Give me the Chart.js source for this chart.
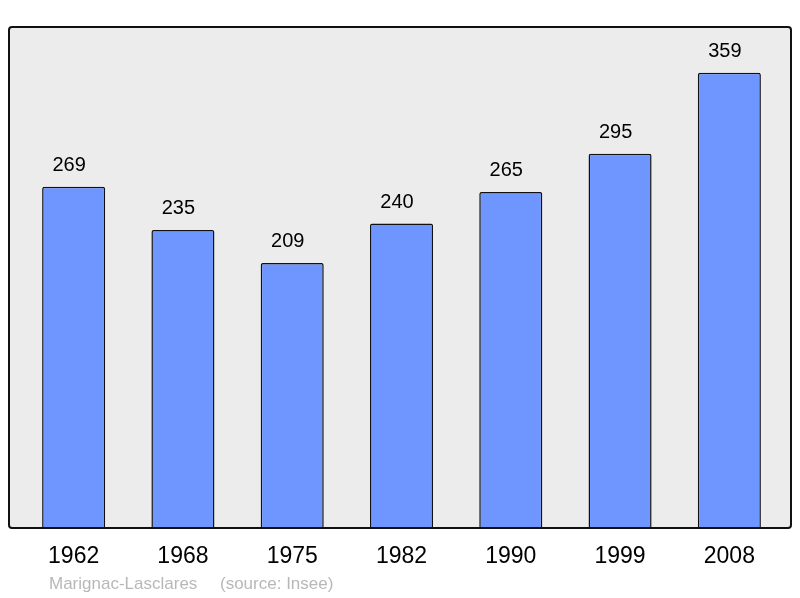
<!DOCTYPE html>
<html>
<head>
<meta charset="utf-8">
<script src="https://cdn.jsdelivr.net/npm/chart.js@4/dist/chart.umd.min.js"></script>
<style>
  html, body { margin: 0; padding: 0; background: #fff; }
  #wrap { width: 800px; height: 598px; }
</style>
</head>
<body>
<div id="wrap"><canvas id="chartPop"></canvas></div>
<script>
const years = ['1962', '1968', '1975', '1982', '1990', '1999', '2008'];
const population = [269, 235, 209, 240, 265, 295, 359];
const footerName = 'Marignac-Lasclares';
const footerSource = '(source: Insee)';

// fond gris + cadre autour de la zone du graphe
const boxPlugin = {
    id: 'box',
    beforeDatasetsDraw(chart) {
        const { ctx, chartArea: a } = chart;
        ctx.save();
        ctx.fillStyle = '#ececec';
        roundRect(ctx, a.left - 10, a.top, a.right - a.left + 17, a.bottom - a.top, 3);
        ctx.fill();
        ctx.restore();
    },
    afterDatasetsDraw(chart) {
        const { ctx, chartArea: a } = chart;
        ctx.save();
        // valeurs au-dessus des barres
        ctx.fillStyle = '#000';
        ctx.font = '20px "Liberation Sans", Arial, sans-serif';
        ctx.textAlign = 'center';
        ctx.textBaseline = 'middle';
        chart.getDatasetMeta(0).data.forEach((bar, i) => {
            ctx.fillText(population[i], bar.x - 4.5, bar.y - 21);
        });
        ctx.strokeStyle = '#111';
        ctx.lineWidth = 2;
        roundRect(ctx, a.left - 10, a.top, a.right - a.left + 17, a.bottom - a.top, 3);
        ctx.stroke();
        // pied de page
        ctx.fillStyle = '#b8b8b8';
        ctx.font = '17px "Liberation Sans", Arial, sans-serif';
        ctx.textAlign = 'left';
        ctx.fillText(footerName, 49, 584);
        ctx.fillText(footerSource, 220, 584);
        ctx.restore();
    }
};

function roundRect(ctx, x, y, w, h, r) {
    ctx.beginPath();
    ctx.moveTo(x + r, y);
    ctx.lineTo(x + w - r, y);
    ctx.quadraticCurveTo(x + w, y, x + w, y + r);
    ctx.lineTo(x + w, y + h - r);
    ctx.quadraticCurveTo(x + w, y + h, x + w - r, y + h);
    ctx.lineTo(x + r, y + h);
    ctx.quadraticCurveTo(x, y + h, x, y + h - r);
    ctx.lineTo(x, y + r);
    ctx.quadraticCurveTo(x, y, x + r, y);
    ctx.closePath();
}

new Chart(document.getElementById('chartPop'), {
    type: 'bar',
    data: {
        labels: years,
        datasets: [{
            data: population,
            backgroundColor: '#6f96ff',
            borderColor: '#111',
            borderWidth: 1.5,
            borderRadius: { topLeft: 2, topRight: 2 },
            borderSkipped: 'bottom',
            barPercentage: 0.577,
            categoryPercentage: 1
        }]
    },
    options: {
        responsive: true,
        maintainAspectRatio: false,
        animation: false,
        layout: { padding: { left: 19, right: 16, top: 27, bottom: 0 } },
        plugins: { legend: { display: false }, tooltip: { enabled: false } },
        scales: {
            y: { display: false, min: 0, max: 395 },
            x: {
                grid: { display: false, drawTicks: false },
                border: { display: false },
                ticks: {
                    color: '#000',
                    font: { family: '"Liberation Sans", Arial, sans-serif', size: 23 },
                    padding: 15
                },
                afterFit: (s) => { s.height = 70; }
            }
        }
    },
    plugins: [boxPlugin]
});
</script>
</body>
</html>
